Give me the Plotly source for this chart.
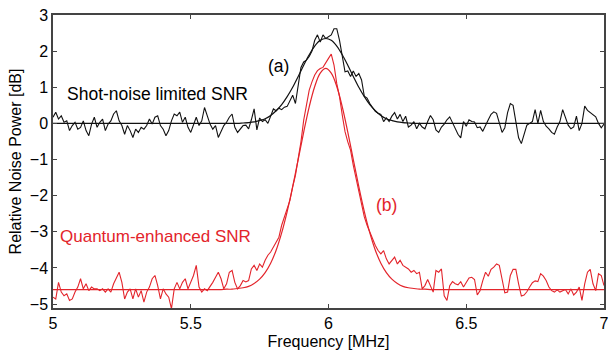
import numpy as np
import plotly.graph_objects as go

# ---- data ----
x_start = 5.00
x_step = 0.01

shot_noise_db = [
    0.17, 0.31, 0.12, 0.21, 0.03, 0.07, -0.20, -0.06, 0.03, -0.16,
    -0.11, 0.07, -0.20, -0.34, -0.02, 0.17, -0.11, 0.03, 0.12, -0.20,
    -0.02, 0.07, 0.26, 0.35, 0.07, -0.06, -0.30, -0.06, -0.20, -0.39,
    -0.16, -0.25, -0.11, -0.16, -0.06, 0.12, -0.02, 0.17, 0.21, -0.06,
    -0.16, -0.34, -0.20, 0.07, 0.26, 0.21, 0.31, 0.03, 0.17, -0.11,
    -0.25, -0.02, 0.17, -0.06, 0.07, 0.44, 0.21, -0.02, -0.16, -0.06,
    -0.39, -0.20, -0.06, 0.03, 0.17, 0.26, -0.11, -0.25, -0.16, -0.06,
    -0.05, -0.15, 0.10, 0.40, -0.18, 0.15, 0.05, 0.10, 0.00, 0.20,
    0.40, 0.35, 0.42, 0.38, 0.45, 0.47, 0.64, 0.78, 0.55, 1.00,
    1.55, 1.70, 1.75, 1.85, 2.00, 2.30, 2.45, 2.25, 2.45, 2.35,
    2.40, 2.45, 2.62, 2.62, 2.30, 1.85, 1.43, 1.45, 1.30, 1.45,
    1.30, 1.38, 1.20, 0.75, 0.70, 0.55, 0.42, 0.33, 0.28, 0.25,
    0.05, 0.15, 0.05, 0.20, 0.30, 0.12, 0.25, 0.05, 0.20, -0.10,
    -0.05, 0.05, -0.15, 0.00,
    -0.10, -0.15, 0.05, 0.22, 0.10, -0.18, -0.25, -0.10, -0.02, 0.10,
    0.18, 0.02, -0.18, -0.30, -0.40, 0.05, -0.08, 0.10, 0.05, 0.04,
    -0.12, -0.10, -0.22, -0.08, 0.10, 0.25, 0.32, 0.28, 0.02, -0.25,
    -0.12, 0.30, 0.55, 0.50, 0.05, -0.40, -0.56, -0.30, -0.05, 0.00,
    0.05, 0.38, 0.00, 0.36, 0.05, -0.08, -0.15, -0.25, -0.30, -0.10,
    0.05, 0.38, 0.15, -0.05, -0.15, -0.10, 0.20, -0.20, 0.00, 0.48,
    0.36, 0.30, 0.25, 0.18, 0.00, -0.12, -0.02,
]

squeezed_db = [
    -4.81, -4.86, -4.40, -4.67, -4.77, -4.72, -4.90, -4.86, -4.67, -4.53,
    -4.30, -4.58, -4.44, -4.63, -4.53, -4.58, -4.58, -4.63, -4.58, -4.67,
    -4.58, -4.67, -4.44, -4.30, -4.12, -4.40, -4.86, -4.67, -4.58, -4.86,
    -4.58, -4.81, -4.63, -4.95, -4.67, -4.53, -4.30, -4.21, -4.49, -4.86,
    -4.58, -4.72, -4.81, -5.13, -4.58, -4.40, -4.58, -4.40, -4.30, -4.58,
    -4.40, -4.21, -3.93, -4.53, -4.67, -4.58, -4.63, -4.53, -4.40, -4.26,
    -4.12, -4.30, -4.58, -4.44, -4.12, -4.07, -4.40, -4.58, -4.49, -4.35,
    -4.39, -4.35, -4.03, -3.93, -4.07, -3.89, -3.98, -3.79, -3.65, -3.56,
    -3.42, -3.28, -3.15, -2.82, -2.59, -2.31, -2.13, -1.76, -1.44, -0.97,
    -0.51, 0.09, 0.50, 0.92, 1.15, 1.34, 1.46, 1.52, 1.55, 1.66,
    1.80, 1.92, 1.61, 1.10, 0.74, 0.23, -0.23, -0.51, -0.74, -1.16,
    -1.53, -1.94, -2.31, -2.59, -2.82, -3.01, -3.24, -3.38, -3.52, -3.61,
    -3.52, -3.75, -3.89, -3.79, -3.70, -3.89, -3.79, -3.93, -3.98, -4.03,
    -4.12, -4.07, -4.16, -4.12,
    -4.58, -4.49, -4.32, -4.51, -4.67, -4.07, -4.12, -4.03, -4.77, -4.90,
    -4.49, -4.38, -4.44, -4.47, -4.38, -4.53, -4.40, -4.28, -4.26, -4.32,
    -4.75, -4.63, -4.35, -4.12, -4.23, -4.04, -3.98, -3.89, -3.93, -4.35,
    -4.69, -4.67, -4.21, -4.04, -4.04, -4.44, -4.78, -4.75, -4.66, -4.53,
    -4.41, -4.36, -4.38, -4.16, -4.23, -4.35, -4.53, -4.63, -4.67, -4.61,
    -4.67, -4.63, -4.60, -4.72, -4.58, -4.75, -4.67, -4.53, -4.90, -4.44,
    -4.12, -4.04, -4.44, -4.63, -4.16, -4.21, -4.49,
]

fit_x = [5.00, 5.20, 5.40, 5.50, 5.55,
         5.59, 5.61, 5.63, 5.65, 5.67, 5.69, 5.71, 5.73, 5.75, 5.77,
         5.79, 5.81, 5.83, 5.85, 5.87, 5.89, 5.91, 5.93, 5.95, 5.97,
         5.99,
         6.01, 6.03, 6.05, 6.07, 6.09, 6.11, 6.13, 6.15, 6.17, 6.19,
         6.21, 6.23, 6.25, 6.27, 6.29, 6.31, 6.33, 6.35, 6.37, 6.39,
         6.43, 6.50, 6.60, 6.80, 7.00]

shot_fit_db = [0.00, 0.00, 0.00, 0.00, 0.00,
               0.00, 0.00, 0.00, 0.00, 0.00, 0.01, 0.02, 0.04, 0.08, 0.13,
               0.22, 0.35, 0.52, 0.74, 1.00, 1.30, 1.61, 1.90, 2.14, 2.30,
               2.35,
               2.30, 2.14, 1.90, 1.61, 1.30, 1.00, 0.74, 0.52, 0.35, 0.22,
               0.13, 0.08, 0.04, 0.02, 0.01, 0.00, 0.00, 0.00, 0.00, 0.00,
               0.00, 0.00, 0.00, 0.00, 0.00]

squeezed_fit_db = [-4.60, -4.60, -4.60, -4.60, -4.60,
                   -4.60, -4.60, -4.59, -4.59, -4.57, -4.55, -4.51, -4.43, -4.31, -4.13,
                   -3.87, -3.51, -3.03, -2.44, -1.75, -1.00, -0.24, 0.46, 1.02, 1.39,
                   1.52,
                   1.39, 1.02, 0.46, -0.24, -1.00, -1.75, -2.44, -3.03, -3.51, -3.87,
                   -4.13, -4.31, -4.43, -4.51, -4.55, -4.57, -4.59, -4.59, -4.60, -4.60,
                   -4.60, -4.60, -4.60, -4.60, -4.60]

x_ticks = [5, 5.5, 6, 6.5, 7]
x_tick_labels = ["5", "5.5", "6", "6.5", "7"]
y_ticks = [-5, -4, -3, -2, -1, 0, 1, 2, 3]

# ---- figure ----
BLACK = "#111111"
RED = "#e3242b"

data_x = np.round(x_start + x_step * np.arange(len(shot_noise_db)), 2)
data_x2 = np.round(x_start + x_step * np.arange(len(squeezed_db)), 2)

fig = go.Figure()
fig.add_trace(go.Scatter(x=fit_x, y=shot_fit_db, mode="lines", line_shape="spline",
                         line=dict(color=BLACK, width=1.2), showlegend=False))
fig.add_trace(go.Scatter(x=data_x, y=shot_noise_db, mode="lines",
                         line=dict(color=BLACK, width=1.1), showlegend=False))
fig.add_trace(go.Scatter(x=fit_x, y=squeezed_fit_db, mode="lines", line_shape="spline",
                         line=dict(color=RED, width=1.2), showlegend=False))
fig.add_trace(go.Scatter(x=data_x2, y=squeezed_db, mode="lines",
                         line=dict(color=RED, width=1.1), showlegend=False))

font = "Liberation Sans, Arial, Helvetica, sans-serif"
fig.add_annotation(x=5.379, y=0.80, text="Shot-noise limited SNR", showarrow=False,
                   font=dict(family=font, size=17.5, color="#000000"))
fig.add_annotation(x=5.82, y=1.58, text="(a)", showarrow=False,
                   font=dict(family=font, size=17.5, color="#000000"))
fig.add_annotation(x=5.372, y=-3.12, text="Quantum-enhanced SNR", showarrow=False,
                   font=dict(family=font, size=17, color=RED))
fig.add_annotation(x=6.21, y=-2.27, text="(b)", showarrow=False,
                   font=dict(family=font, size=17.5, color=RED))

axis_common = dict(showgrid=False, zeroline=False, showline=True, linecolor="#444444",
                   linewidth=1.5, mirror="ticks", ticks="inside", ticklen=4,
                   tickcolor="#444444", tickwidth=1, automargin=False,
                   ticklabeloverflow="allow",
                   tickfont=dict(family=font, size=16, color="#000000"))

fig.update_xaxes(range=[5, 7], tickvals=x_ticks, ticktext=x_tick_labels,
                 title=dict(text="Frequency [MHz]", font=dict(family=font, size=16, color="#000000"),
                            standoff=5),
                 **axis_common)
fig.update_yaxes(range=[-5.11, 3], tickvals=y_ticks,
                 title=dict(text="Relative Noise Power [dB]", font=dict(family=font, size=16, color="#000000"),
                            standoff=4),
                 **axis_common)

fig.update_layout(width=608, height=354, margin=dict(l=53, r=4, t=15, b=46),
                  plot_bgcolor="white", paper_bgcolor="white", showlegend=False)

# remove the default page margin so the figure sits at the window's top-left corner
fig.write_html("out.html", config={"displayModeBar": False},
               post_script="document.body.style.margin='0';document.body.style.overflow='hidden';")
